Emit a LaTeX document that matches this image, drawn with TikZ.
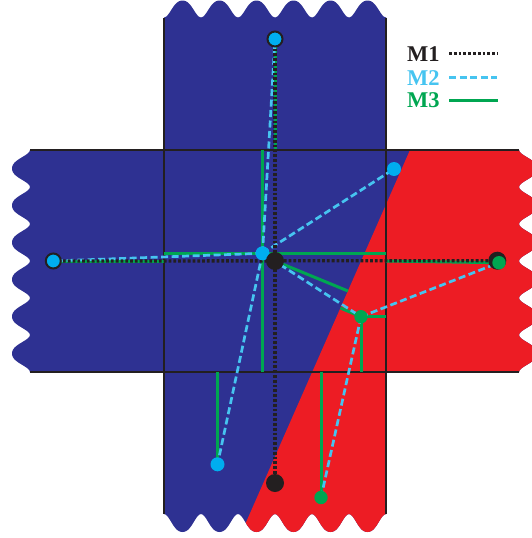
\documentclass[tikz,border=0pt]{standalone}
\usepackage{fontspec}
\setmainfont{Liberation Serif}
\definecolor{bgblue}{HTML}{2E3192}
\definecolor{bgred}{HTML}{ED1C24}
\definecolor{ink}{HTML}{231F20}
\definecolor{mgreen}{HTML}{00A651}
\definecolor{ncyan}{HTML}{00AEEF}
\definecolor{mblue}{RGB}{70,196,240}
\begin{document}
\begin{tikzpicture}[x=1pt,y=-1pt,
  declare function={wv(\t)=0.5*(1+cos(360*\t))/2+0.5*((1+cos(360*\t))/2)^2;},
  frame/.style={draw=ink,line width=1.3pt},
  mone/.style={draw=ink,line width=3.3pt,dash pattern=on 2.8pt off 2pt},
  mtwo/.style={draw=mblue,line width=2.7pt,dash pattern=on 7pt off 3.5pt},
  mthree/.style={draw=mgreen,line width=3pt},
  dotk/.style={circle,fill=ink,inner sep=0pt,minimum size=18pt},
  dotb/.style={circle,fill=ncyan,inner sep=0pt,minimum size=14pt},
  dotg/.style={circle,fill=mgreen,inner sep=0pt,minimum size=13.4pt},
  endb/.style={circle,fill=ncyan,draw=ink,line width=2pt,inner sep=0pt,minimum size=15pt},
  legtext/.style={font=\fontsize{22.5}{24}\selectfont\bfseries,anchor=base west,inner sep=0pt},
]
\useasboundingbox (0,0) rectangle (532,538);
\clip (0,0) rectangle (532,538);
\def\crosspath{(164,17.5) -- plot[domain=164:386,samples=121] (\x,{0.5+17*wv((\x-164)/37)})
  -- (386,150) -- (519,150)
  -- plot[domain=150:372,samples=121] ({537-18*wv((\x-150)/37)},\x)
  -- (386,372) -- (386,514)
  -- plot[domain=386:164,samples=121] (\x,{532-18*wv((\x-164)/37)})
  -- (164,372) -- (30,372)
  -- plot[domain=372:150,samples=121] ({12+18*wv((\x-150)/37)},\x)
  -- (164,150) -- cycle}
% background
\fill[bgblue] \crosspath;
\begin{scope}
  \clip \crosspath;
  \fill[bgred] (432,100) -- (229.4,560) -- (600,560) -- (600,100) -- cycle;
\end{scope}
% frame lines
\draw[frame] (164,17.5) -- (164,514);
\draw[frame] (386,17.5) -- (386,514);
\draw[frame] (30,150) -- (519,150);
\draw[frame] (30,372) -- (519,372);
% positions
\coordinate (pT) at (275,39);
\coordinate (pL) at (53.3,261);
\coordinate (pR) at (497.3,260.7);
\coordinate (pRg) at (499,262.7);
\coordinate (pB) at (275,483);
\coordinate (pC1) at (275,261);
\coordinate (pC2) at (262.5,253.3);
\coordinate (pUR) at (394,169);
\coordinate (pLL) at (217.5,464.3);
\coordinate (pG) at (361,316.7);
\coordinate (pGB) at (321,497.5);
% M3 free ends
\coordinate (g1) at (275,150);
\coordinate (g2) at (262.5,150);
\coordinate (g3) at (262.5,372);
\coordinate (g4) at (164,261);
\coordinate (g5) at (164,253.3);
\coordinate (g6) at (386,253.3);
\coordinate (g7) at (386,261);
\coordinate (g8) at (348,291);
\coordinate (g9) at (340.4,308);
\coordinate (g10) at (386,316.7);
\coordinate (g11) at (361,372);
\coordinate (g12) at (217.5,372);
\coordinate (g13) at (321,372);
% M3 lines
\draw[mthree] (pT) -- (g1);
\draw[mthree] (g2) -- (g3);
\draw[mthree] (pL) -- (g4);
\draw[mthree] (g5) -- (g6);
\draw[mthree] (g7) -- (pRg);
\draw[mthree] (pC1) -- (g8);
\draw[mthree] (g9) -- (pG);
\draw[mthree] (pG) -- (g10);
\draw[mthree] (pG) -- (g11);
\draw[mthree] (g12) -- (pLL);
\draw[mthree] (g13) -- (pGB);
% M2 lines
\draw[mtwo] (pC2) -- (pT);
\draw[mtwo] (pC2) -- (pL);
\draw[mtwo] (pC2) -- (pUR);
\draw[mtwo] (pC2) -- (pLL);
\draw[mtwo] (pC2) -- (pG);
\draw[mtwo] (pG) -- (pRg);
\draw[mtwo] (pG) -- (pGB);
% M1 lines
\draw[mone] (pT) -- (pB);
\draw[mone] (pL) -- (pR);
% nodes
\node[endb] (T) at (pT) {};
\node[endb] (L) at (pL) {};
\node[dotk] (R) at (pR) {};
\node[dotg] (Rg) at (pRg) {};
\node[dotb] (UR) at (pUR) {};
\node[dotb] (LL) at (pLL) {};
\node[dotb] (C2) at (pC2) {};
\node[dotk] (C1) at (pC1) {};
\node[dotg] (G) at (pG) {};
\node[dotg] (GB) at (pGB) {};
\node[dotk] (B) at (pB) {};
% legend
\node[legtext,text=ink] (m1) at (407,61.7) {M1};
\node[legtext,text=mblue] (m2) at (407,85) {M2};
\node[legtext,text=mgreen] (m3) at (407,107.7) {M3};
\coordinate (l1a) at (449,53.3); \coordinate (l1b) at (498,53.3);
\coordinate (l2a) at (449,77.7); \coordinate (l2b) at (497,77.7);
\coordinate (l3a) at (449,100);  \coordinate (l3b) at (498,100);
\draw[mone] (l1a) -- (l1b);
\draw[mtwo] (l2a) -- (l2b);
\draw[mthree] (l3a) -- (l3b);
\end{tikzpicture}
\end{document}
